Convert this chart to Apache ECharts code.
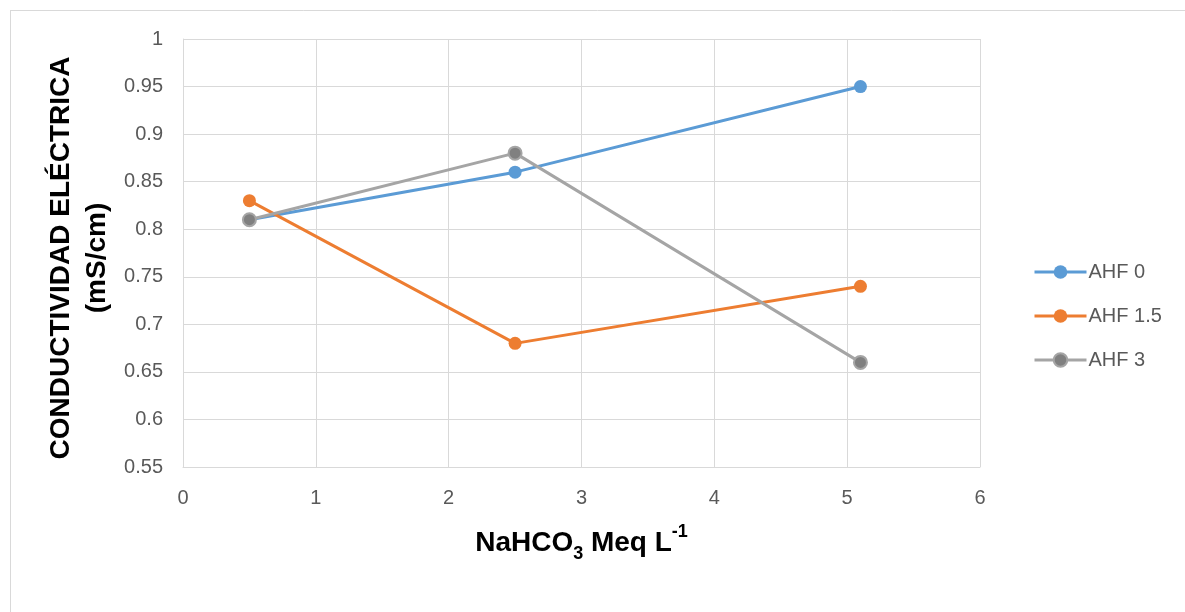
<!DOCTYPE html>
<html>
<head>
<meta charset="utf-8">
<script src="https://cdn.jsdelivr.net/npm/echarts@6/dist/echarts.min.js"></script>
<style>html,body{margin:0;padding:0;background:#fff;}#c{width:1185px;height:612px;}</style>
</head>
<body>
<div id="c"></div>
<script>
const xValues = [0.5, 2.5, 5.1];
const seriesNames = ['AHF 0', 'AHF 1.5', 'AHF 3'];
const ahf0 = [0.81, 0.86, 0.95];
const ahf15 = [0.83, 0.68, 0.74];
const ahf3 = [0.81, 0.88, 0.66];
const colors = ['#5B9BD5', '#ED7D31', '#A5A5A5'];
const markerFill = ['#5B9BD5', '#ED7D31', '#808080'];
const yTitle1 = 'CONDUCTIVIDAD ELÉCTRICA';
const yTitle2 = '(mS/cm)';

const allData = [ahf0, ahf15, ahf3];
const chart = echarts.init(document.getElementById('c'));
const tickFont = {color: '#595959', fontSize: 20, fontFamily: 'Liberation Sans'};
chart.setOption({
  animation: false,
  backgroundColor: '#fff',
  grid: {left: 183, right: 205, top: 39, bottom: 145},
  xAxis: {
    type: 'value', min: 0, max: 6, interval: 1,
    axisLine: {show: true, lineStyle: {color: '#D9D9D9', width: 1}},
    axisTick: {show: false},
    splitLine: {show: true, lineStyle: {color: '#D9D9D9', width: 1}},
    axisLabel: Object.assign({margin: 21}, tickFont),
    name: '{a|NaHCO}{s|3}{a| Meq L}{p|-1}',
    nameLocation: 'middle', nameGap: 56,
    nameTextStyle: {
      rich: {
        a: {fontSize: 28, fontWeight: 'bold', fontFamily: 'Liberation Sans', color: '#000', lineHeight: 40, verticalAlign: 'middle'},
        s: {fontSize: 18, fontWeight: 'bold', fontFamily: 'Liberation Sans', color: '#000', lineHeight: 40, verticalAlign: 'bottom'},
        p: {fontSize: 18, fontWeight: 'bold', fontFamily: 'Liberation Sans', color: '#000', lineHeight: 40, verticalAlign: 'top'}
      }
    }
  },
  yAxis: {
    type: 'value', min: 0.55, max: 1, interval: 0.05,
    axisLine: {show: true, lineStyle: {color: '#D9D9D9', width: 1}},
    axisTick: {show: false},
    splitLine: {show: true, lineStyle: {color: '#D9D9D9', width: 1}},
    axisLabel: Object.assign({margin: 20, formatter: v => String(+v.toFixed(2))}, tickFont)
  },
  legend: {
    orient: 'vertical', left: 1028, top: 257, itemGap: 24,
    itemWidth: 52, itemHeight: 17,
    lineStyle: {width: 3},
    textStyle: {color: '#595959', fontSize: 20, fontFamily: 'Liberation Sans', padding: [0,0,0,-3]},
    data: seriesNames
  },
  graphic: [
    {type: 'line', shape: {x1: 10, y1: 10.5, x2: 1185, y2: 10.5}, style: {stroke: '#D9D9D9', lineWidth: 1}},
    {type: 'line', shape: {x1: 10.5, y1: 10, x2: 10.5, y2: 612}, style: {stroke: '#D9D9D9', lineWidth: 1}},
    {type: 'text', x: 61, y: 258, rotation: Math.PI / 2,
      style: {text: yTitle1, font: 'bold 28px "Liberation Sans"', fill: '#000', textAlign: 'center', textVerticalAlign: 'middle'}},
    {type: 'text', x: 97, y: 258, rotation: Math.PI / 2,
      style: {text: yTitle2, font: 'bold 28px "Liberation Sans"', fill: '#000', textAlign: 'center', textVerticalAlign: 'middle'}}
  ],
  series: seriesNames.map((n, i) => ({
    name: n, type: 'line',
    data: xValues.map((x, j) => [x, allData[i][j]]),
    symbol: 'circle', symbolSize: 13,
    lineStyle: {color: colors[i], width: 3},
    itemStyle: {color: markerFill[i], borderColor: colors[i], borderWidth: i === 2 ? 2 : 0},
    z: 3 + i
  }))
});
</script>
</body>
</html>
